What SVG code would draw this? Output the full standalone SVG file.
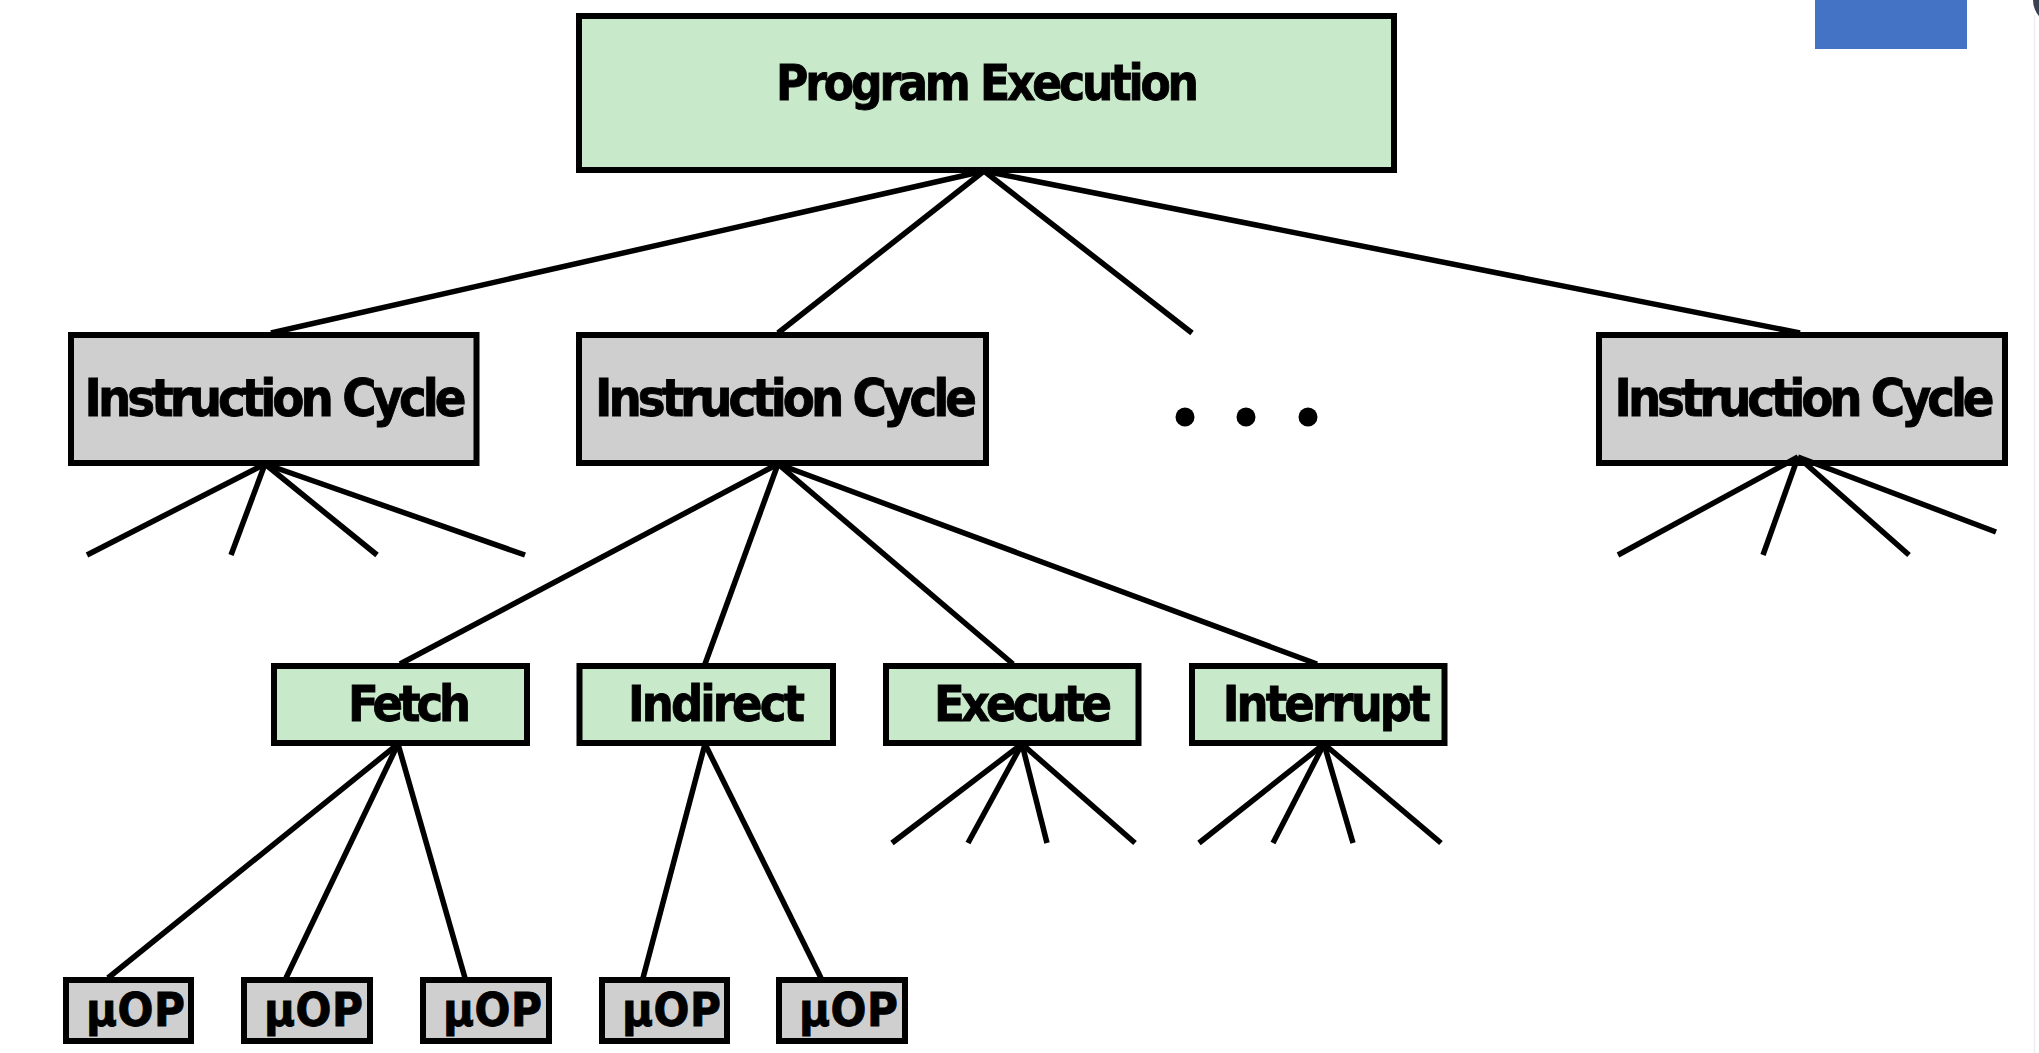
<svg xmlns="http://www.w3.org/2000/svg" width="2039" height="1053" viewBox="0 0 2039 1053">
<style>
  .box { stroke: #000; stroke-width: 6; }
  .green { fill: #C9E9CB; }
  .gray { fill: #CFCFCF; }
  .lbl { font-family: "DejaVu Sans Condensed", "DejaVu Sans", sans-serif; font-weight: bold; fill: #000; stroke: #000; stroke-width: 0.8; }
  .conn line { stroke: #000; stroke-width: 5.5; stroke-linecap: butt; }
</style>
<rect width="2039" height="1053" fill="#fff"/>
<rect x="1815" y="0" width="152" height="49" fill="#4472C4"/>
<line x1="2034.5" y1="15" x2="2034.5" y2="1053" stroke="#efefef" stroke-width="1.5"/>
<circle cx="2058" cy="0" r="25" fill="#3a4050"/>

<g id="program-execution">
  <rect class="box green" x="579" y="16" width="815" height="154"/>
  <text class="lbl" x="776" y="100" font-size="49" textLength="423" lengthAdjust="spacing">Program Execution</text>
</g>

<g id="instruction-cycle-1">
  <rect class="box gray" x="71" y="335" width="405.5" height="128"/>
  <text class="lbl" x="84.6" y="416" font-size="52" textLength="382" lengthAdjust="spacing">Instruction Cycle</text>
</g>
<g id="instruction-cycle-2">
  <rect class="box gray" x="579" y="335" width="407" height="128"/>
  <text class="lbl" x="595" y="416" font-size="52" textLength="382" lengthAdjust="spacing">Instruction Cycle</text>
</g>
<g id="ellipsis">
  <circle cx="1185" cy="417" r="9.5"/>
  <circle cx="1246" cy="417" r="9.5"/>
  <circle cx="1308" cy="417" r="9.5"/>
</g>
<g id="instruction-cycle-n">
  <rect class="box gray" x="1599" y="335" width="406" height="128"/>
  <text class="lbl" x="1614.6" y="416" font-size="52" textLength="380" lengthAdjust="spacing">Instruction Cycle</text>
</g>

<g id="fetch">
  <rect class="box green" x="274" y="666" width="253" height="77"/>
  <text class="lbl" x="348" y="721" font-size="50" textLength="123" lengthAdjust="spacing">Fetch</text>
</g>
<g id="indirect">
  <rect class="box green" x="579.5" y="666" width="253.5" height="77"/>
  <text class="lbl" x="628" y="721" font-size="50" textLength="177" lengthAdjust="spacing">Indirect</text>
</g>
<g id="execute">
  <rect class="box green" x="886" y="666" width="252.5" height="77"/>
  <text class="lbl" x="934" y="721" font-size="50" textLength="178" lengthAdjust="spacing">Execute</text>
</g>
<g id="interrupt">
  <rect class="box green" x="1192" y="666" width="252.5" height="77"/>
  <text class="lbl" x="1222.7" y="721" font-size="50" textLength="208" lengthAdjust="spacing">Interrupt</text>
</g>

<g id="uop-1">
  <rect class="box gray" x="66" y="980" width="125" height="61"/>
  <text class="lbl" x="86" y="1026" font-size="47" textLength="99" lengthAdjust="spacing">µOP</text>
</g>
<g id="uop-2">
  <rect class="box gray" x="244" y="980" width="126" height="61"/>
  <text class="lbl" x="264" y="1026" font-size="47" textLength="99" lengthAdjust="spacing">µOP</text>
</g>
<g id="uop-3">
  <rect class="box gray" x="423" y="980" width="126" height="61"/>
  <text class="lbl" x="443" y="1026" font-size="47" textLength="99" lengthAdjust="spacing">µOP</text>
</g>
<g id="uop-4">
  <rect class="box gray" x="602" y="980" width="125" height="61"/>
  <text class="lbl" x="622" y="1026" font-size="47" textLength="99" lengthAdjust="spacing">µOP</text>
</g>
<g id="uop-5">
  <rect class="box gray" x="779" y="980" width="126" height="61"/>
  <text class="lbl" x="799" y="1026" font-size="47" textLength="99" lengthAdjust="spacing">µOP</text>
</g>

<g id="connectors" class="conn">
  <line x1="984" y1="171" x2="271" y2="333"/>
  <line x1="984" y1="171" x2="778" y2="333"/>
  <line x1="984" y1="171" x2="1192" y2="333"/>
  <line x1="984" y1="171" x2="1800" y2="333"/>

  <line x1="265" y1="464" x2="87" y2="555"/>
  <line x1="265" y1="464" x2="231" y2="555"/>
  <line x1="265" y1="464" x2="377" y2="555"/>
  <line x1="265" y1="464" x2="525" y2="555"/>

  <line x1="778" y1="464" x2="400" y2="664"/>
  <line x1="778" y1="464" x2="705" y2="664"/>
  <line x1="778" y1="464" x2="1013" y2="664"/>
  <line x1="778" y1="464" x2="1317" y2="664"/>

  <line x1="1798" y1="457" x2="1618" y2="555"/>
  <line x1="1798" y1="457" x2="1763" y2="555"/>
  <line x1="1798" y1="457" x2="1909" y2="555"/>
  <line x1="1798" y1="457" x2="1996" y2="532"/>

  <line x1="398" y1="744" x2="108" y2="978"/>
  <line x1="398" y1="744" x2="286" y2="978"/>
  <line x1="398" y1="744" x2="465" y2="978"/>

  <line x1="705" y1="744" x2="643" y2="978"/>
  <line x1="705" y1="744" x2="821" y2="978"/>

  <line x1="1022" y1="744" x2="892" y2="843"/>
  <line x1="1022" y1="744" x2="968" y2="843"/>
  <line x1="1022" y1="744" x2="1047" y2="843"/>
  <line x1="1022" y1="744" x2="1135" y2="843"/>

  <line x1="1324" y1="744" x2="1199" y2="843"/>
  <line x1="1324" y1="744" x2="1273" y2="843"/>
  <line x1="1324" y1="744" x2="1353" y2="843"/>
  <line x1="1324" y1="744" x2="1441" y2="843"/>
</g>
</svg>
